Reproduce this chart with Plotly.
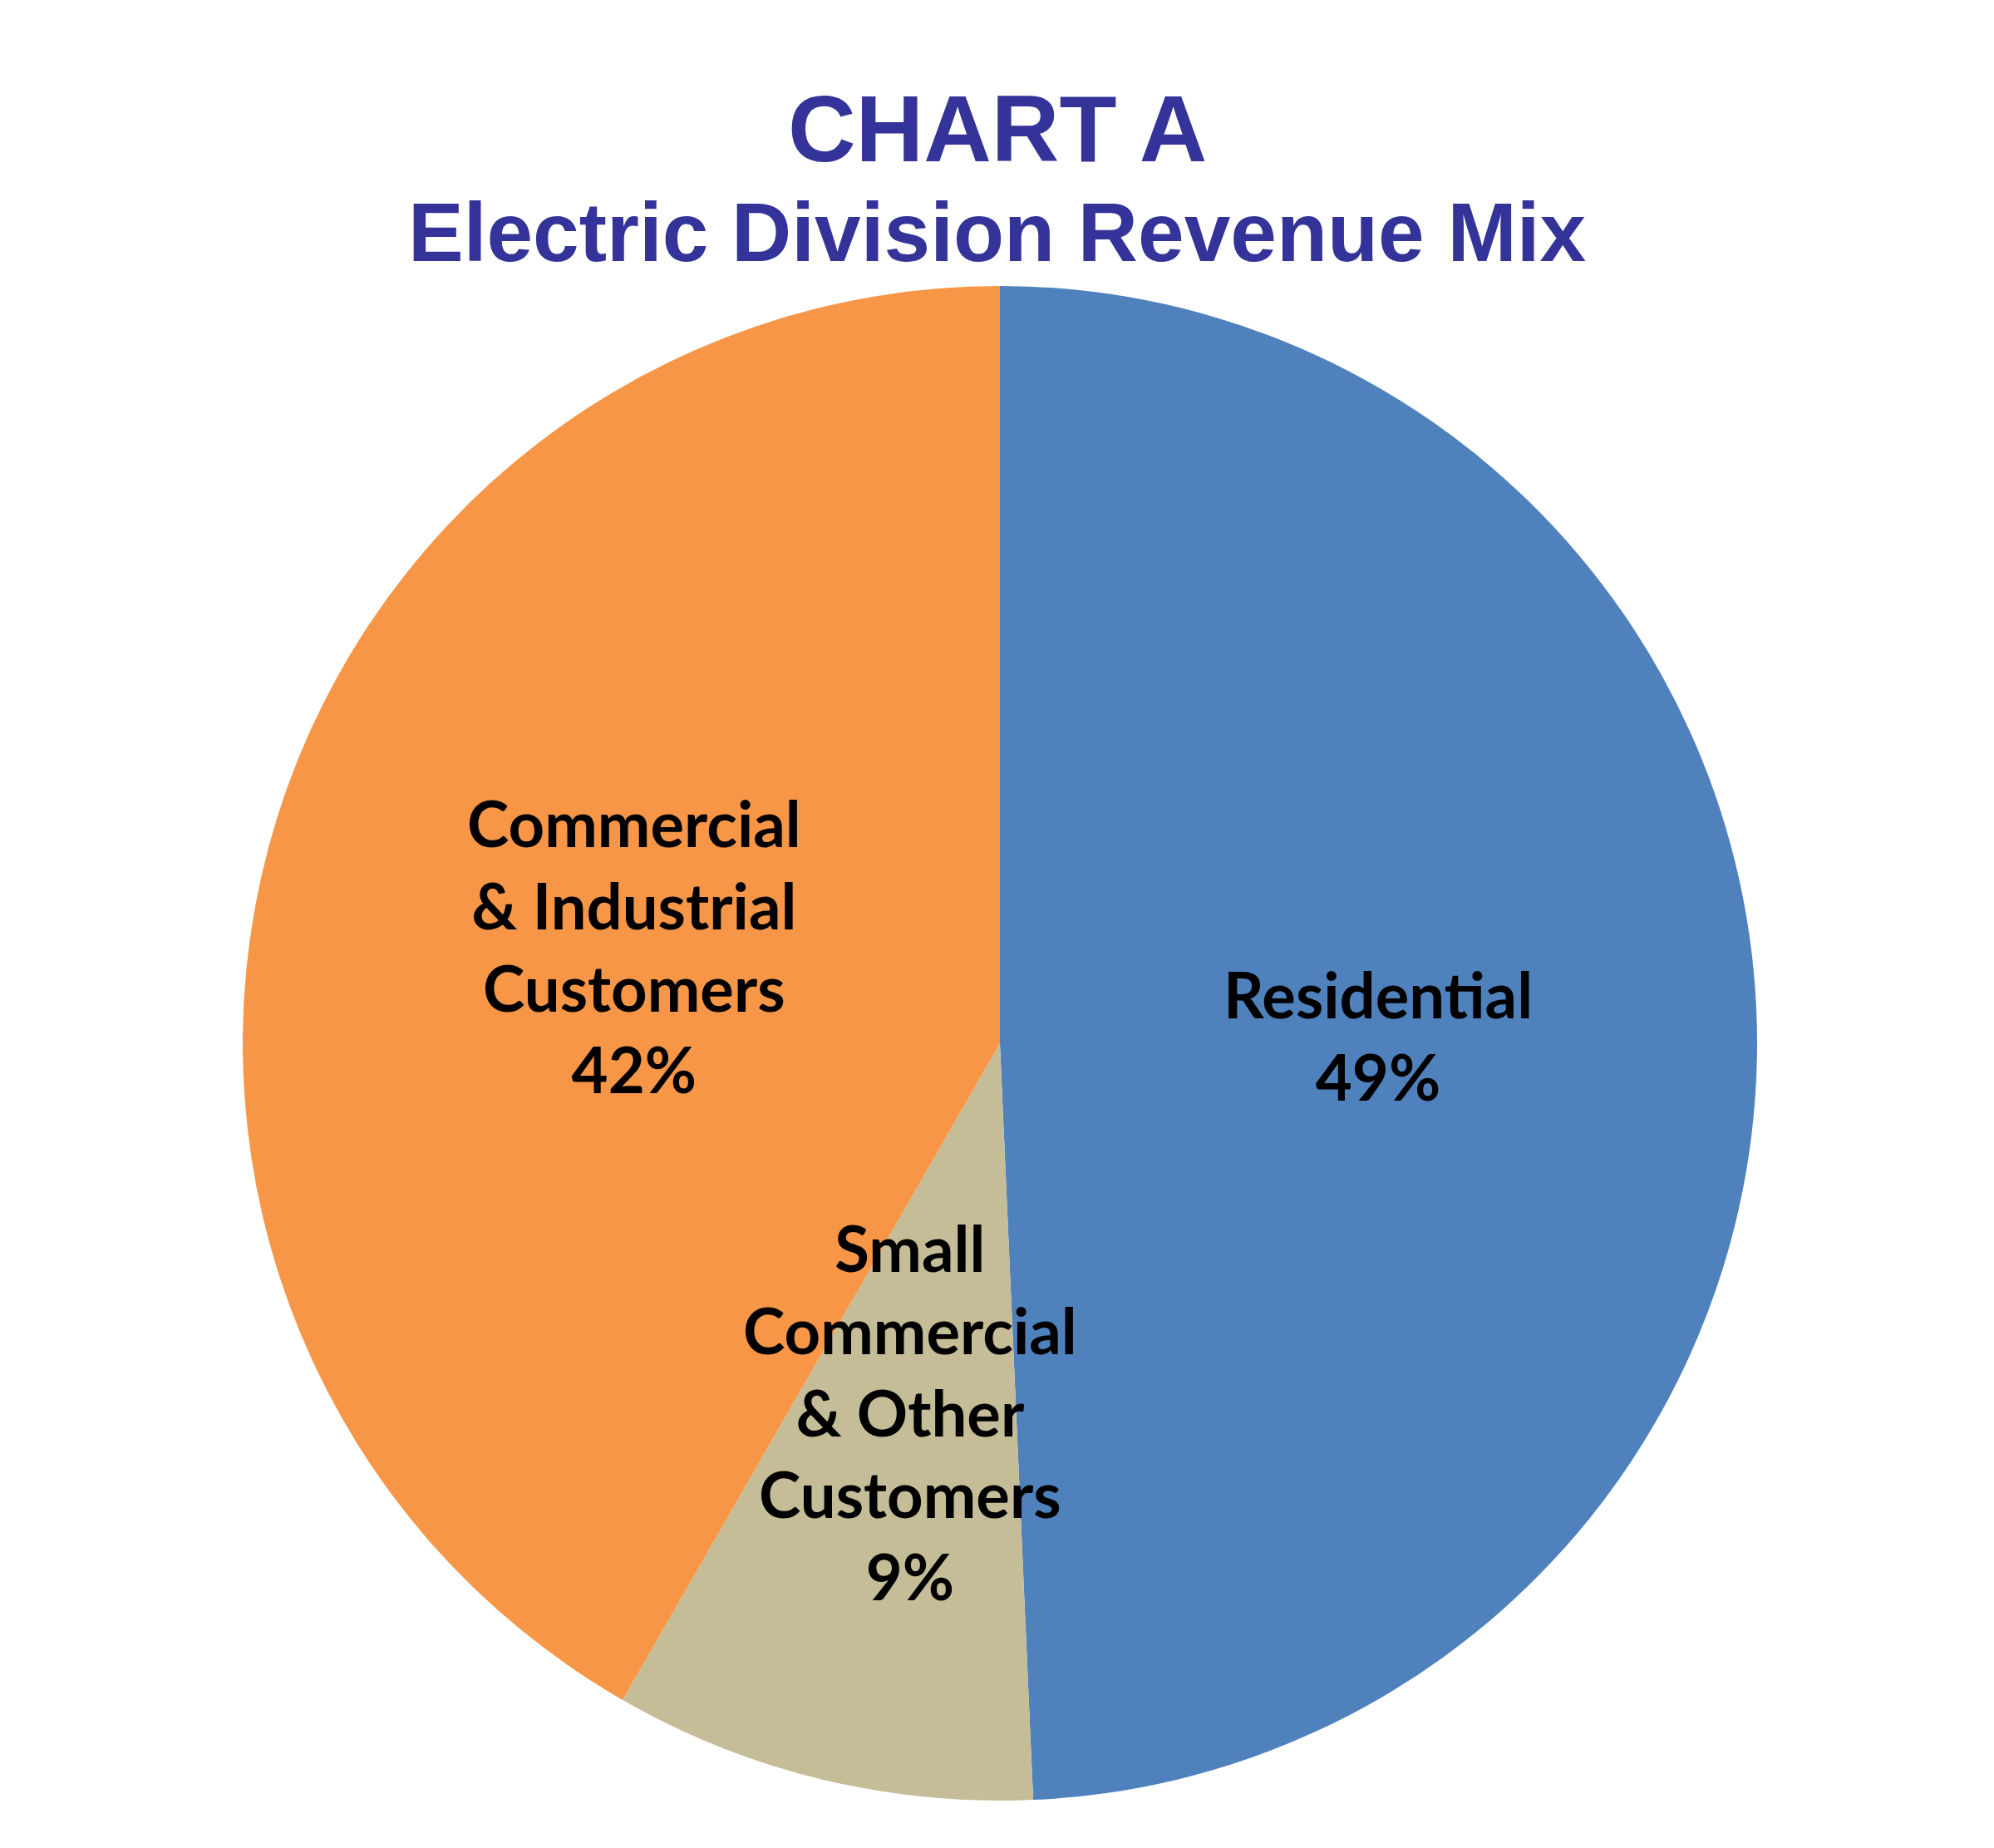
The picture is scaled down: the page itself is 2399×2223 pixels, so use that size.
import math
import plotly.graph_objects as go

W, H = 2399, 2223

categories = ["Residential", "Small<br>Commercial<br>& Other<br>Customers", "Commercial<br>& Industrial<br>Customers"]
values = [49.3, 9.0, 41.7]
colors = ["#4F81BD", "#C4BD97", "#F79646"]

title_line1 = "CHART A"
title_line2 = "Electric Division Revenue Mix"

# pie geometry (pixels)
cx, cy, R = 1203, 1255, 911

fig = go.Figure()
fig.add_trace(go.Pie(
    labels=[c.replace("<br>", " ") for c in categories],
    values=values,
    sort=False,
    direction="clockwise",
    rotation=0,
    marker=dict(colors=colors, line=dict(width=0)),
    textinfo="none",
    hoverinfo="label+percent",
    showlegend=False,
    domain=dict(x=[(cx - R) / W, (cx + R) / W], y=[1 - (cy + R) / H, 1 - (cy - R) / H]),
))

annotations = []
total = sum(values)
cum = 0.0
for cat, v in zip(categories, values):
    mid = (cum + v / 2) / total * 2 * math.pi
    cum += v
    px = cx + 0.5 * R * math.sin(mid)
    py = cy - 0.5 * R * math.cos(mid)
    pct = round(v / total * 100)
    annotations.append(dict(
        x=px / W, y=1 - py / H, xref="paper", yref="paper",
        text=f"{cat}<br>{pct}%", showarrow=False,
        xanchor="center", yanchor="middle", align="center",
        font=dict(family="Lato", size=76, color="black", weight="bold"),
    ))

annotations.append(dict(
    x=0.5, y=1 - 155 / H, xref="paper", yref="paper", text=f"<b>{title_line1}</b>",
    showarrow=False, xanchor="center", yanchor="middle",
    font=dict(family="Liberation Sans", size=113, color="#343399"),
))
annotations.append(dict(
    x=(322 + 1246) / 2 / 1568, y=1 - 279 / H, xref="paper", yref="paper", text=f"<b>{title_line2}</b>",
    showarrow=False, xanchor="center", yanchor="middle",
    font=dict(family="Liberation Sans", size=100, color="#343399"),
))

fig.update_layout(
    width=W, height=H,
    margin=dict(l=0, r=0, t=0, b=0),
    paper_bgcolor="white", plot_bgcolor="white",
    annotations=annotations,
)

fig.write_html("out.html")
